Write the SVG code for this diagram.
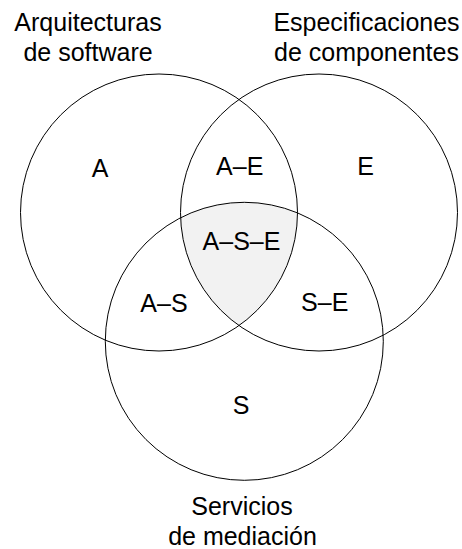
<svg xmlns="http://www.w3.org/2000/svg" width="462" height="549" viewBox="0 0 462 549">
  <style>
    .set { fill: none; stroke: #000; stroke-width: 1; }
    .lbl { font-family: "Liberation Sans", Arial, sans-serif; font-size: 25px; fill: #000; text-anchor: middle; }
  </style>
  <defs>
    <clipPath id="clipE"><circle cx="319" cy="212.5" r="138.5"/></clipPath>
    <clipPath id="clipS"><circle cx="244.3" cy="341.3" r="139"/></clipPath>
  </defs>
  <rect width="462" height="549" fill="#fff"/>

  <!-- triple intersection shading -->
  <g id="region-ASE-fill" clip-path="url(#clipS)">
    <circle cx="159" cy="212.5" r="138.5" fill="#f2f2f2" clip-path="url(#clipE)"/>
  </g>

  <g id="set-A">
    <circle class="set" cx="159" cy="212.5" r="138.5"/>
    <text class="lbl" x="88" y="30.5">Arquitecturas</text>
    <text class="lbl" x="88" y="60.5">de software</text>
  </g>
  <g id="set-E">
    <circle class="set" cx="319" cy="212.5" r="138.5"/>
    <text class="lbl" x="366.5" y="30.5">Especificaciones</text>
    <text class="lbl" x="366.5" y="60.5">de componentes</text>
  </g>
  <g id="set-S">
    <circle class="set" cx="244.3" cy="341.3" r="139"/>
    <text class="lbl" x="242" y="515">Servicios</text>
    <text class="lbl" x="242.5" y="545">de mediación</text>
  </g>

  <g id="regions">
    <text class="lbl" x="100" y="176.5">A</text>
    <text class="lbl" x="239.7" y="174.5">A–E</text>
    <text class="lbl" x="365.5" y="174.5">E</text>
    <text class="lbl" x="241.5" y="250">A–S–E</text>
    <text class="lbl" x="164" y="312">A–S</text>
    <text class="lbl" x="324.7" y="311">S–E</text>
    <text class="lbl" x="241" y="413.5">S</text>
  </g>
</svg>
